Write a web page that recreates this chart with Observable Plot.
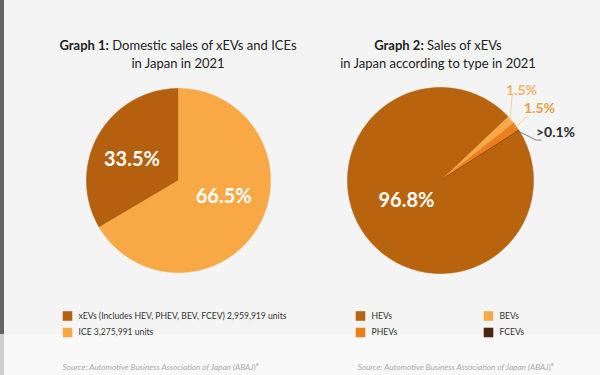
<!DOCTYPE html>
<html>
<head>
<meta charset="utf-8">
<script src="https://cdn.jsdelivr.net/npm/d3@7"></script>
<script src="https://cdn.jsdelivr.net/npm/@observablehq/plot@0.6"></script>
<style>
  html, body { margin: 0; padding: 0; background: #f4f4f4; }
  #wrap { position: relative; width: 600px; height: 375px; overflow: hidden; background: #f4f4f4; font-family: Lato, "Open Sans", sans-serif; }
  #lower { position: absolute; left: 0; top: 334px; width: 600px; height: 41px; background: #f8f8f8; }
  #strip { position: absolute; left: 0; top: 0; width: 4px; height: 334px; background: #666; }
  #strip2 { position: absolute; left: 0; top: 334px; width: 4px; height: 41px; background: #cfcfcf; }
  .title { position: absolute; top: 36px; width: 300px; text-align: center; font-size: 13px; line-height: 18px; color: #222; }
  .title b { font-weight: 700; }
  #chart { position: absolute; left: 0; top: 0; }
</style>
</head>
<body>
<div id="wrap">
  <div id="lower"></div>
  <div id="strip"></div>
  <div id="strip2"></div>
  <div id="chart"></div>
  <div class="title" style="left:28px"><b>Graph 1:</b> Domestic sales of xEVs and ICEs<br>in Japan in 2021</div>
  <div class="title" style="left:288px"><b>Graph 2:</b> Sales of xEVs<br>in Japan according to type in 2021</div>
</div>
<script>
// ---- Data ----
const pie1Categories = ["xEVs", "ICE"];
const pie1Values = [33.5, 66.5];
const pie1Labels = ["33.5%", "66.5%"];
const pie1Colors = ["#b5600f", "#f9a846"];
const pie1Legend = ["xEVs (Includes HEV, PHEV, BEV, FCEV) 2,959,919 units", "ICE 3,275,991 units"];

const pie2Categories = ["BEVs", "PHEVs", "FCEVs", "HEVs"];
const pie2Values = [1.5, 1.5, 0.1, 96.8];
const pie2Labels = ["1.5%", "1.5%", ">0.1%", "96.8%"];
const pie2Colors = ["#f6a94a", "#e9801c", "#4a2410", "#b8640e"];
const pie2LegendOrder = ["HEVs", "BEVs", "PHEVs", "FCEVs"];

const sourceText = "Source: Automotive Business Association of Japan (ABAJ)\u2078";

// ---- Layout ----
const W = 600, H = 375;
const deg = Math.PI / 180;
const P1 = {cx: 178, cy: 180, r: 92, start: -pie1Values[0] / 100 * 360 * deg};
const P2 = {cx: 440, cy: 180, r: 93, start: 46.5 * deg};

function slices(cats, vals, colors, labels, P) {
  const arcs = d3.pie().sort(null).startAngle(P.start).endAngle(P.start + 2 * Math.PI)(vals);
  return arcs.map((a, i) => ({cat: cats[i], color: colors[i], label: labels[i], a0: a.startAngle, a1: a.endAngle, P}));
}
function polygon(s) {
  const {cx, cy, r} = s.P;
  const n = Math.max(2, Math.ceil((s.a1 - s.a0) / (1 * deg)));
  const pts = [{x: cx, y: cy, k: s.cat}];
  for (let j = 0; j <= n; j++) {
    const a = s.a0 + (s.a1 - s.a0) * j / n;
    pts.push({x: cx + r * Math.sin(a), y: cy - r * Math.cos(a), k: s.cat});
  }
  pts.push({x: cx, y: cy, k: s.cat});
  return pts;
}
const pt = (P, a, rr) => ({x: P.cx + rr * Math.sin(a), y: P.cy - rr * Math.cos(a)});

const s1 = slices(pie1Categories, pie1Values, pie1Colors, pie1Labels, P1);
const s2 = slices(pie2Categories, pie2Values, pie2Colors, pie2Labels, P2);

// inner labels (radial placement plus small nudge)
const inner = [
  {s: s1[0], rr: 0.57, nx: -1, ny: 5},
  {s: s1[1], rr: 0.49, nx: 6, ny: -6},
  {s: s2[3], rr: 0.45, nx: -1, ny: -6}
].map(d => {
  const m = (d.s.a0 + d.s.a1) / 2;
  const p = pt(d.s.P, m, d.s.P.r * d.rr);
  return {x: p.x + d.nx, y: p.y + d.ny, text: d.s.label, color: "#fff"};
});

// outer labels for small slices with leader lines
const outerSpec = [
  {s: s2[0], dx: 2, dy: -26, lx: 521, ly: 90, color: "#f1b567", line: "#f5cc98"},
  {s: s2[1], dx: 12, dy: -11, lx: 539, ly: 108, color: "#e9a040", line: "#f5cc98"},
  {s: s2[2], dx: 18, dy: 9, lx: 555, ly: 132, color: "#2a2a2a", line: "#777"}
];
const outerLabels = outerSpec.map(d => ({x: d.lx, y: d.ly, text: d.s.label, color: d.color}));
const leaders = outerSpec.flatMap((d, i) => {
  const m = (d.s.a0 + d.s.a1) / 2;
  const p = pt(d.s.P, m, d.s.P.r - 1);
  const q = {x: p.x + d.dx, y: p.y + d.dy};
  const seg = [{...p, k: i, c: d.line}, {...q, k: i, c: d.line}];
  if (i === 2) seg.push({x: q.x + 5, y: q.y, k: i, c: d.line});
  return seg;
});

// legends
const leg1 = pie1Categories.map((c, i) => ({x: 67, y: 315.5 + i * 16.5, color: pie1Colors[i], text: pie1Legend[i]}));
const leg2 = pie2LegendOrder.map((c, i) => {
  const idx = pie2Categories.indexOf(c);
  return {x: i % 2 === 0 ? 360 : 488, y: 315.5 + Math.floor(i / 2) * 16.5, color: pie2Colors[idx], text: c};
});
const legends = [...leg1, ...leg2];
const sources = [{x: 62, y: 367}, {x: 357, y: 367}].map(d => ({...d, text: sourceText}));

const marks = [];
for (const s of [...s1, ...s2]) {
  marks.push(Plot.line(polygon(s), {x: "x", y: "y", fill: s.color, stroke: s.color, strokeWidth: 0.6, curve: "linear"}));
}
marks.push(
  Plot.line(leaders, {x: "x", y: "y", z: "k", stroke: "c", strokeWidth: 0.9}),
  Plot.text(inner, {x: "x", y: "y", text: "text", fill: "color", fontSize: 20, fontWeight: 700, fontFamily: "Lato, sans-serif"}),
  Plot.text(outerLabels, {x: "x", y: "y", text: "text", fill: "color", fontSize: 14, fontWeight: 700, fontFamily: "Lato, sans-serif"}),
  Plot.dot(legends, {x: "x", y: "y", fill: "color", symbol: "square", r: 5.4, stroke: null}),
  Plot.text(legends, {x: d => d.x + 11, y: "y", text: "text", textAnchor: "start", fill: "#333", fontSize: 8.6, fontFamily: "Lato, sans-serif"}),
  Plot.text(sources, {x: "x", y: "y", text: "text", textAnchor: "start", fill: "#aaa", fontSize: 8.2, fontStyle: "italic", fontFamily: "Lato, sans-serif"})
);

const chart = Plot.plot({
  width: W, height: H, margin: 0,
  x: {domain: [0, W], range: [0, W], axis: null},
  y: {domain: [0, H], range: [0, H], axis: null},
  color: {type: "identity"},
  style: {background: "transparent", overflow: "visible"},
  marks
});
document.getElementById("chart").append(chart);
</script>
</body>
</html>
